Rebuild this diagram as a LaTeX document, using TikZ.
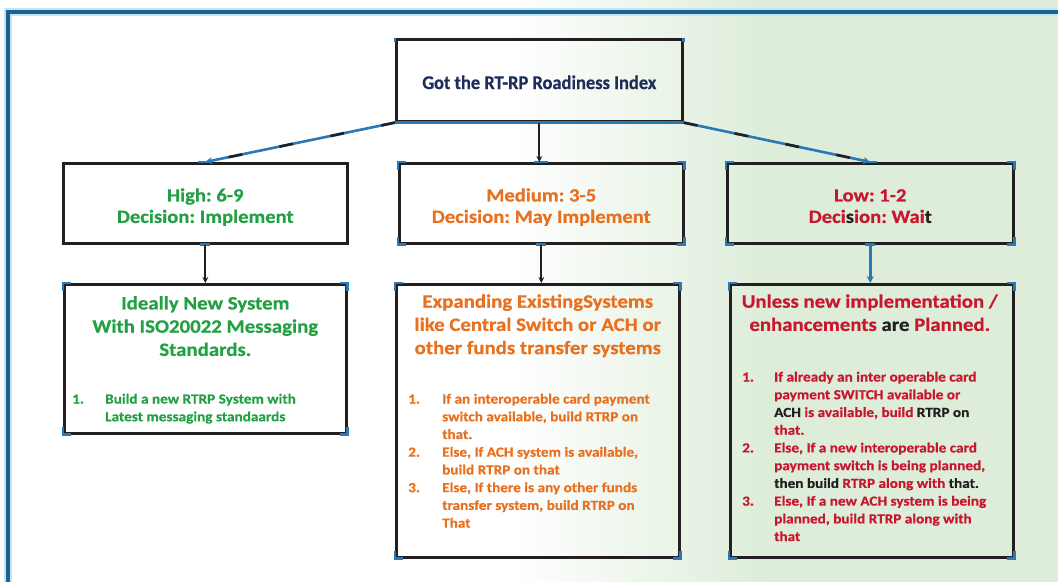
\documentclass[tikz,border=0pt]{standalone}
\usepackage{fontspec}
\setmainfont{Carlito}[FakeStretch=1.1, BoldFeatures={FakeBold=0.6}]
\newfontfamily\titlefont{Carlito}[FakeStretch=0.95, BoldFeatures={FakeBold=0.5}]
\usetikzlibrary{arrows.meta,calc}
\definecolor{frameblue}{HTML}{1F6090}
\definecolor{edgeblue}{HTML}{2A78B8}
\definecolor{halo}{HTML}{BFE8F5}
\definecolor{dark}{HTML}{231F20}
\definecolor{gtxt}{HTML}{22A043}
\definecolor{otxt}{HTML}{E8701E}
\definecolor{rtxt}{HTML}{C8162E}
\definecolor{navy}{HTML}{1E2D5A}
\definecolor{bggreen}{HTML}{DDEDD9}
\frenchspacing
\newlength\itind
\newcommand\litem[2]{\par\hangindent=\itind\hangafter=1\noindent\makebox[\itind][l]{#1}#2\par}
\newcommand\listbox[2]{\setlength\itind{#1}\vtop{\hsize=300bp\parskip=0pt\parindent=0pt\raggedright #2}}
\newcommand\headbox[1]{\vtop{\hsize=280bp\parskip=0pt\centering #1\par}}
\newcommand\bluecorners[1]{%
  \draw[edgeblue,line width=2.6bp] ($(#1.north west)+(0,8)$) -- (#1.north west) -- ++(8,0);
  \draw[edgeblue,line width=2.6bp] ($(#1.north east)+(0,8)$) -- (#1.north east) -- ++(-8,0);
  \draw[edgeblue,line width=2.6bp] ($(#1.south west)+(0,-8)$) -- (#1.south west) -- ++(8,0);
  \draw[edgeblue,line width=2.6bp] ($(#1.south east)+(0,-8)$) -- (#1.south east) -- ++(-8,0);}
\tikzset{
  box/.style={draw=dark, line width=2.6bp, inner sep=0pt, anchor=north west},
  midtext/.style={font=\bfseries\fontsize{18.8}{21.5}\selectfont, inner sep=0pt, anchor=base},
  headtext/.style={font=\bfseries\fontsize{19}{23.3}\selectfont, inner sep=0pt, anchor=base},
  listtext/.style={font=\bfseries\fontsize{13.9}{17.8}\selectfont, inner sep=0pt, anchor=base west},
  conn/.style={edgeblue, line width=2.6bp, -{Stealth[length=7bp,width=7bp]}},
  darkconn/.style={dark, line width=2.2bp, -{Stealth[length=6bp,width=6bp]}},
  darkdash/.style={dark, line width=2.6bp, dash pattern=on 14bp off 38bp},
  bluemark/.style={edgeblue, line width=2.6bp}
}
\begin{document}
\begin{tikzpicture}[x=1bp,y=-1bp]
\useasboundingbox (0,0) rectangle (1058,582);
% background
\fill[white] (0,0) rectangle (1058,582);
\shade[left color=white, right color=bggreen] (510,0) rectangle (770,582);
\fill[bggreen] (770,0) rectangle (1058,582);
% outer frame
\draw[halo, line width=8bp] (8,590) -- (8,12) -- (1070,12);
\draw[frameblue, line width=4bp] (8,590) -- (8,12) -- (1070,12);

% boxes
\node[box, minimum width=286bp, minimum height=82bp] (top) at (395,38) {};
\node[box, minimum width=284bp, minimum height=80bp] (mh) at (62,162) {};
\node[box, minimum width=284bp, minimum height=80bp] (mm) at (398,162) {};
\node[box, minimum width=286bp, minimum height=80bp] (ml) at (726,162) {};
\node[box, minimum width=282bp, minimum height=149bp] (lh) at (63,283) {};
\node[box, minimum width=283bp, minimum height=273bp] (lm) at (395,283) {};
\node[box, minimum width=283bp, minimum height=273bp] (ll) at (729,283) {};

\draw[bluemark] (top.south west) -- (top.south east);
\bluecorners{mm}
\bluecorners{ml}
\bluecorners{lm}
\bluecorners{ll}
\bluecorners{lh}
\draw[bluemark] ($(top.north west)+(0,4)$) -- (top.north west);
\draw[bluemark] ($(top.north east)+(0,4)$) -- (top.north east);

% marks where connectors meet
\foreach \n in {mh,mm,ml}{
  \draw[bluemark] ($(\n.north)+(-7,0)$) -- ++(14,0);
  \draw[bluemark] ($(\n.south)+(-5,0)$) -- ++(10,0);
}

% title
\node[font=\titlefont\bfseries\fontsize{19.5}{22}\selectfont, text=navy, inner sep=0pt] (title) at ($(top.center)+(0,2)$) {Got the RT-RP Roadiness Index};

% connectors top -> middle row
\draw[conn] (top.south west) -- (mh.north);
\draw[darkdash] (top.south west) -- ($(top.south west)!0.9!(mh.north)$);
\draw[darkconn] (top.south) -- (top.south |- mm.north);
\draw[conn] (top.south east) -- (ml.north);
\draw[darkdash] (top.south east) -- ($(top.south east)!0.9!(ml.north)$);

% connectors middle -> lower
\draw[darkconn] (mh.south) -- (mh.south |- lh.north);
\draw[darkconn] (mm.south) -- (mm.south |- lm.north);
\draw[conn] (ml.south) -- (ml.south |- ll.north);

% middle row texts
\node[midtext, text=gtxt] (mht) at ($(mh.north)+(0,39.5)$) {\headbox{High: 6-9\\Decision: Implement}};
\node[midtext, text=otxt] (mmt) at ($(mm.north)+(0,39.5)$) {\headbox{Medium: 3-5\\Decision: May Implement}};
\node[midtext, text=rtxt] (mlt) at ($(ml.north)+(0,39.5)$) {\headbox{Low: 1-2\\Deci\textcolor{dark}{s}ion: Wai\textcolor{dark}{t}}};

% lower headings
\node[headtext, text=gtxt] (lhh) at ($(lh.north)+(0,26.5)$) {\headbox{Ideally New System\\With ISO20022 Messaging\\Standards.}};
\node[headtext, text=otxt] (lmh) at ($(lm.north)+(0,24.7)$) {\headbox{Expanding ExistingSystems\\like Central Switch or ACH or\\other funds transfer systems}};
\node[headtext, text=rtxt] (llh) at ($(ll.north)+(-2,24.7)$) {\headbox{Unless new implementation /\\enhancements \textcolor{dark}{are} Planned.}};

% lists
\node[listtext, text=gtxt] (lhl) at (72,403.5) {\listbox{33bp}{%
  \litem{1.}{Build a new RTRP System with\newline Latest messaging standaards}}};
\node[listtext, text=otxt] (lml) at (408,403.5) {\listbox{34bp}{%
  \litem{1.}{If an interoperable card payment\newline switch available, build RTRP on\newline that.}%
  \litem{2.}{Else, If ACH system is available,\newline build RTRP on that}%
  \litem{3.}{Else, If there is any other funds\newline transfer system, build RTRP on\newline That}}};
\node[listtext, text=rtxt] (lll) at (742,381.5) {\listbox{32bp}{%
  \litem{1.}{If already an inter operable card\newline payment SWITCH available or\newline \textcolor{dark}{ACH} is available, build \textcolor{dark}{RTRP on}\newline that.}%
  \litem{2.}{Else, If a new interoperable card\newline payment switch is being planned,\newline \textcolor{dark}{then build} RTRP along with \textcolor{dark}{that.}}%
  \litem{3.}{Else, If a new ACH system is being\newline planned, build RTRP along with\newline that}}};
\end{tikzpicture}
\end{document}
